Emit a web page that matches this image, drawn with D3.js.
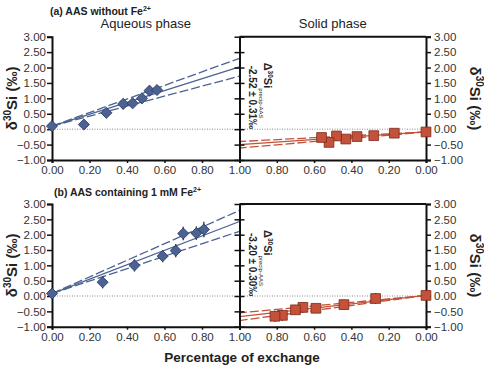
<!DOCTYPE html>
<html lang="en">
<head>
<meta charset="UTF-8">
<title>d30Si exchange</title>
<style>
  body { margin: 0; background: #fff; }
  text { font-family: "Liberation Sans", Arial, sans-serif; fill: #222; }
</style>
</head>
<body>
<script src="https://cdn.jsdelivr.net/npm/d3@7"></script>
<script>
// ticks
var yTicks = [-1, -0.5, 0, 0.5, 1, 1.5, 2, 2.5, 3];
var xTicks = [0, 0.2, 0.4, 0.6, 0.8, 1];

// (a) without Fe2+
var aqA_x = [0, 0.17, 0.29, 0.38, 0.43, 0.48, 0.52, 0.56];
var aqA_y = [0.10, 0.15, 0.53, 0.82, 0.84, 1.00, 1.25, 1.27];
var aqA_err = [0.08, 0.14, 0.13, 0.17, 0.15, 0.15, 0.15, 0.15];
var soA_x = [0, 0.17, 0.28, 0.37, 0.43, 0.48, 0.52, 0.56];
var soA_y = [-0.09, -0.13, -0.21, -0.24, -0.32, -0.22, -0.43, -0.27];
var soA_err = [0.08, 0.14, 0.12, 0.14, 0.13, 0.14, 0.14, 0.14];
// fit lines: value at x=0 and at x=1 (lower, fit, upper)
var fitAqA = [0.10, 1.72, 2.02, 2.30];
var fitSoA = [-0.09, -0.61, -0.50, -0.40];

// (b) with 1 mM Fe2+
var aqB_x = [0, 0.27, 0.44, 0.59, 0.66, 0.70, 0.77, 0.81];
var aqB_y = [0.08, 0.45, 1.00, 1.30, 1.48, 2.04, 2.05, 2.17];
var aqB_err = [0.08, 0.20, 0.20, 0.20, 0.22, 0.22, 0.22, 0.25];
var soB_x = [0, 0.27, 0.44, 0.59, 0.66, 0.70, 0.77, 0.81];
var soB_y = [0.02, -0.08, -0.28, -0.40, -0.37, -0.45, -0.63, -0.66];
var soB_err = [0.06, 0.18, 0.16, 0.14, 0.16, 0.16, 0.18, 0.18];
var fitAqB = [0.08, 2.11, 2.43, 2.79];
var fitSoB = [0.02, -0.80, -0.67, -0.55];

var blue = "#4c6292", blueDark = "#2c3b62";
var red = "#c4523a", redDark = "#7c2818";

var svg = d3.select("body").append("svg")
    .attr("width", 484)
    .attr("height", 367);

var xAq = d3.scaleLinear().domain([0, 1]).range([52, 239.5]);
var xSo = d3.scaleLinear().domain([0, 1]).range([426, 239.5]);
var fmt = d3.format(".2f");

function panel(top, bottom, title, aq, so, fitAq, fitSo, delta, labelPhases) {
    var y = d3.scaleLinear().domain([-1, 3]).range([bottom, top]);
    var g = svg.append("g");

    // zero line
    g.append("line")
        .attr("x1", xAq(0)).attr("x2", xSo(0))
        .attr("y1", y(0)).attr("y2", y(0))
        .style("stroke", "#8a8a8a")
        .style("stroke-width", 1)
        .style("stroke-dasharray", "1,1.5");

    // fit lines
    var styles = ["9,3", null, "9,3"];
    [1, 2, 3].forEach(function (k, i) {
        g.append("line")
            .attr("x1", xAq(0)).attr("y1", y(fitAq[0]))
            .attr("x2", xAq(1)).attr("y2", y(fitAq[k]))
            .style("stroke", blue).style("stroke-width", 1.3)
            .style("stroke-dasharray", styles[i]);
        g.append("line")
            .attr("x1", xSo(0)).attr("y1", y(fitSo[0]))
            .attr("x2", xSo(1)).attr("y2", y(fitSo[k]))
            .style("stroke", red).style("stroke-width", 1.3)
            .style("stroke-dasharray", styles[i]);
    });

    // axes
    g.append("g").attr("transform", "translate(" + xAq(0) + ",0)")
        .call(d3.axisLeft(y).tickValues(yTicks).tickFormat(fmt).tickSize(5).tickPadding(1));
    g.append("g").attr("transform", "translate(" + xSo(0) + ",0)")
        .call(d3.axisRight(y).tickValues(yTicks).tickFormat(fmt).tickSize(5).tickPadding(3));
    g.append("g").attr("transform", "translate(" + xAq(1) + ",0)")
        .call(d3.axisLeft(y).tickValues(yTicks).tickFormat("").tickSizeInner(-5).tickSizeOuter(0));
    g.append("g").attr("transform", "translate(" + xAq(1) + ",0)")
        .call(d3.axisLeft(y).tickValues(yTicks).tickFormat("").tickSizeInner(5).tickSizeOuter(0));
    g.append("g").attr("transform", "translate(0," + bottom + ")")
        .call(d3.axisBottom(xAq).tickValues(xTicks.slice(0, 5)).tickFormat(fmt).tickSize(3).tickPadding(3));
    g.append("g").attr("transform", "translate(0," + bottom + ")")
        .call(d3.axisBottom(xSo).tickValues(xTicks).tickFormat(fmt).tickSize(3).tickPadding(3));
    // top border of solid panel
    g.append("line")
        .attr("x1", xAq(1)).attr("x2", xSo(0))
        .attr("y1", top).attr("y2", top)
        .style("stroke", "#111").style("stroke-width", 2);

    g.selectAll(".domain").style("stroke", "#111").style("stroke-width", 2);
    g.selectAll(".tick line").style("stroke", "#111").style("stroke-width", 1.5);
    g.selectAll(".tick text")
        .style("font-family", "'Liberation Sans', Arial, sans-serif")
        .style("font-size", "11.5px")
        .style("fill", "#333");

    var aqData = aq[0].map(function (d, i) { return { x: d, y: aq[1][i], e: aq[2][i] }; });
    var soData = so[0].map(function (d, i) { return { x: d, y: so[1][i], e: so[2][i] }; });

    // error bars and markers, aqueous
    g.selectAll(null).data(aqData).enter().append("line")
        .attr("x1", function (d) { return xAq(d.x); })
        .attr("x2", function (d) { return xAq(d.x); })
        .attr("y1", function (d) { return y(d.y - d.e); })
        .attr("y2", function (d) { return y(d.y + d.e); })
        .style("stroke", "#333").style("stroke-width", 1.3);
    g.selectAll(null).data(aqData).enter().append("path")
        .attr("d", d3.symbol().type(d3.symbolSquare).size(62))
        .attr("transform", function (d) { return "translate(" + xAq(d.x) + "," + y(d.y) + ") rotate(45)"; })
        .style("fill", blue).style("stroke", blueDark).style("stroke-width", 0.8);

    // error bars and markers, solid
    g.selectAll(null).data(soData).enter().append("line")
        .attr("x1", function (d) { return xSo(d.x); })
        .attr("x2", function (d) { return xSo(d.x); })
        .attr("y1", function (d) { return y(d.y - d.e); })
        .attr("y2", function (d) { return y(d.y + d.e); })
        .style("stroke", "#333").style("stroke-width", 1.3);
    g.selectAll(null).data(soData).enter().append("path")
        .attr("d", d3.symbol().type(d3.symbolSquare).size(95))
        .attr("transform", function (d) { return "translate(" + xSo(d.x) + "," + y(d.y) + ")"; })
        .style("fill", red).style("stroke", redDark).style("stroke-width", 0.8);

    // y titles
    var mid = (top + bottom) / 2;
    var tl = g.append("text")
        .attr("transform", "translate(17," + mid + ") rotate(-90)")
        .attr("text-anchor", "middle")
        .style("font-size", "15px").style("font-weight", "bold");
    tl.append("tspan").text("\u03b4");
    tl.append("tspan").text("30").attr("dy", -6).style("font-size", "10px");
    tl.append("tspan").text("Si (\u2030)").attr("dy", 6);
    var tr = g.append("text")
        .attr("transform", "translate(470," + mid + ") rotate(90)")
        .attr("text-anchor", "middle")
        .style("font-size", "15px").style("font-weight", "bold");
    tr.append("tspan").text("\u03b4");
    tr.append("tspan").text("30").attr("dy", -6).style("font-size", "10px");
    tr.append("tspan").text("Si (\u2030)").attr("dy", 6);

    // panel title
    var t = g.append("text").attr("x", title.x).attr("y", title.y)
        .style("font-size", "10.5px").style("font-weight", "bold");
    t.append("tspan").text(title.text);
    t.append("tspan").text("2+").attr("dy", -4).style("font-size", "7px");

    if (labelPhases) {
        g.append("text").attr("x", (xAq(0) + xAq(1)) / 2).attr("y", top - 9)
            .attr("text-anchor", "middle").style("font-size", "13px").text("Aqueous phase");
        g.append("text").attr("x", (xSo(0) + xSo(1)) / 2).attr("y", top - 9)
            .attr("text-anchor", "middle").style("font-size", "13px").text("Solid phase");
    }

    // delta annotation
    var d1 = g.append("text")
        .attr("transform", "translate(263.5," + (top + 26) + ") rotate(90)")
        .style("font-size", "11px").style("font-weight", "bold");
    d1.append("tspan").text("\u0394");
    d1.append("tspan").text("30").attr("dy", -4).style("font-size", "6.5px");
    d1.append("tspan").text("Si").attr("dy", 4);
    d1.append("tspan").text("precip-AAS").attr("dy", 5).style("font-size", "6px").style("font-weight", "normal");
    g.append("text")
        .attr("transform", "translate(248.5," + (top + 29) + ") rotate(90)")
        .style("font-size", "10px").style("font-weight", "bold")
        .text(delta);
}

panel(36.7, 160, { x: 50, y: 15, text: "(a) AAS without Fe" },
    [aqA_x, aqA_y, aqA_err], [soA_x, soA_y, soA_err], fitAqA, fitSoA,
    "-2.52 \u00b1 0.31\u2030", true);
panel(204, 326.7, { x: 54, y: 196, text: "(b) AAS containing 1 mM Fe" },
    [aqB_x, aqB_y, aqB_err], [soB_x, soB_y, soB_err], fitAqB, fitSoB,
    "-3.20 \u00b1 0.30\u2030", false);

svg.append("text")
    .attr("x", 242).attr("y", 362)
    .attr("text-anchor", "middle")
    .style("font-size", "13.5px").style("font-weight", "bold")
    .text("Percentage of exchange");
</script>
</body>
</html>
